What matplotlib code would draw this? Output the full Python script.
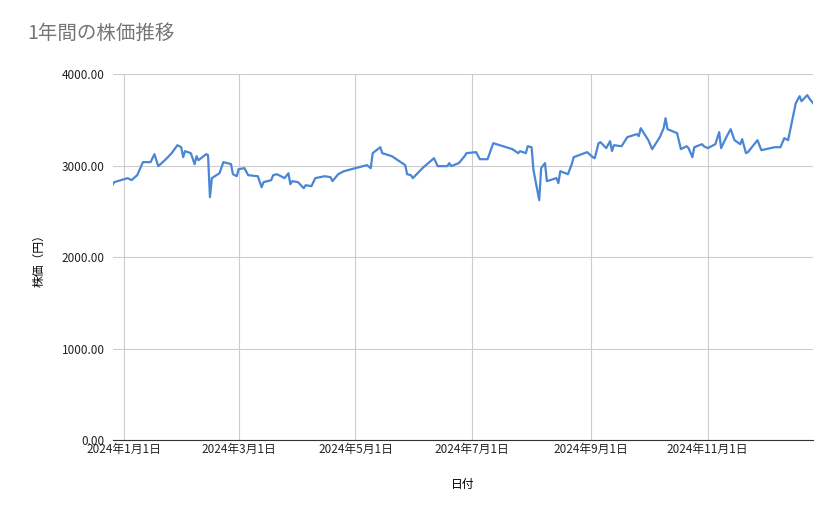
import matplotlib
matplotlib.use("Agg")
import matplotlib.pyplot as plt
import matplotlib.dates as mdates
import pandas as pd
from matplotlib.ticker import FuncFormatter

plt.rcParams['font.family'] = ['Noto Sans CJK JP', 'DejaVu Sans']

dates = ["2023-12-25","2023-12-27","2024-01-03","2024-01-05","2024-01-08","2024-01-11","2024-01-15","2024-01-17",
"2024-01-19","2024-01-23","2024-01-26","2024-01-29","2024-01-31","2024-02-01","2024-02-02","2024-02-05","2024-02-07",
"2024-02-08","2024-02-09","2024-02-13","2024-02-14","2024-02-15","2024-02-16","2024-02-20","2024-02-22","2024-02-26",
"2024-02-27","2024-02-29","2024-03-01","2024-03-04","2024-03-06","2024-03-11","2024-03-13","2024-03-14","2024-03-18",
"2024-03-19","2024-03-21","2024-03-25","2024-03-27","2024-03-28","2024-03-29","2024-04-01","2024-04-04","2024-04-05",
"2024-04-08","2024-04-10","2024-04-15","2024-04-18","2024-04-19","2024-04-22","2024-04-25","2024-05-01","2024-05-07",
"2024-05-09","2024-05-10","2024-05-14","2024-05-15","2024-05-20","2024-05-27","2024-05-28","2024-05-30","2024-05-31",
"2024-06-05","2024-06-11","2024-06-13","2024-06-18","2024-06-19","2024-06-20","2024-06-24","2024-06-27","2024-06-28",
"2024-07-03","2024-07-05","2024-07-09","2024-07-12","2024-07-17","2024-07-22","2024-07-25","2024-07-26","2024-07-29",
"2024-07-30","2024-08-01","2024-08-02","2024-08-05","2024-08-06","2024-08-08","2024-08-09","2024-08-14","2024-08-15",
"2024-08-16","2024-08-20","2024-08-22","2024-08-23","2024-08-30","2024-09-02","2024-09-03","2024-09-05","2024-09-06",
"2024-09-09","2024-09-11","2024-09-12","2024-09-13","2024-09-17","2024-09-20","2024-09-25","2024-09-26","2024-09-27",
"2024-10-01","2024-10-03","2024-10-07","2024-10-09","2024-10-10","2024-10-11","2024-10-16","2024-10-18","2024-10-21",
"2024-10-22","2024-10-24","2024-10-25","2024-10-29","2024-10-30","2024-11-01","2024-11-05","2024-11-07","2024-11-08",
"2024-11-11","2024-11-13","2024-11-15","2024-11-18","2024-11-19","2024-11-21","2024-11-22","2024-11-27","2024-11-29",
"2024-12-06","2024-12-09","2024-12-11","2024-12-13","2024-12-16","2024-12-17","2024-12-19","2024-12-20","2024-12-23",
"2024-12-24","2024-12-26"]

prices = [2754,2820,2864,2842,2896,3039,3039,3126,
2995,3071,3137,3224,3202,3093,3159,3137,3017,
3104,3060,3126,3115,2656,2864,2918,3039,3017,
2907,2885,2962,2973,2896,2885,2765,2820,2842,
2896,2907,2864,2918,2798,2831,2820,2754,2787,
2776,2864,2885,2874,2831,2907,2940,2973,3006,
2973,3137,3202,3137,3104,3006,2907,2896,2864,
2973,3082,2995,2995,3028,2995,3028,3104,3137,
3148,3071,3071,3246,3213,3181,3137,3159,3137,
3213,3202,2951,2623,2973,3028,2831,2864,2809,
2940,2907,3017,3093,3148,3093,3082,3246,3257,
3192,3268,3159,3224,3213,3312,3345,3323,3410,
3279,3181,3312,3410,3519,3399,3356,3181,3213,
3192,3093,3202,3235,3213,3192,3235,3367,3192,
3323,3399,3279,3235,3290,3137,3148,3279,3170,
3202,3202,3301,3279,3585,3683,3760,3705,3771,
3738,3683]

x_ticks = ["2024-01-01","2024-03-01","2024-05-01","2024-07-01","2024-09-01","2024-11-01"]
x_tick_labels = ["2024年1月1日","2024年3月1日","2024年5月1日","2024年7月1日","2024年9月1日","2024年11月1日"]
y_ticks = [0, 1000, 2000, 3000, 4000]

d = pd.to_datetime(dates)
fig = plt.figure(figsize=(8.39, 5.19), dpi=100)
ax = fig.add_axes([0.135, 0.152, 0.834, 0.705])
ax.plot(d, prices, color='#4a86d4', lw=1.6)
ax.set_xlim(pd.Timestamp("2023-12-26 12:00"), pd.Timestamp("2024-12-26"))
ax.set_ylim(0, 4000)
ax.set_yticks(y_ticks)
ax.yaxis.set_major_formatter(FuncFormatter(lambda v, p: f"{v:.2f}"))
ax.set_xticks(pd.to_datetime(x_ticks))
ax.set_xticklabels(x_tick_labels)
ax.grid(True, color='#cccccc', lw=0.8)
ax.set_axisbelow(True)
for s in ['top', 'right', 'left']:
    ax.spines[s].set_visible(False)
ax.spines['bottom'].set_color('#333333')
ax.tick_params(length=0, labelsize=8.5, colors='#222222')
ax.tick_params(axis='x', pad=2)
ax.tick_params(axis='y', pad=6)
ax.set_ylabel("株価（円）", fontsize=8.5, labelpad=12)
ax.set_xlabel("日付", fontsize=8.5, labelpad=16)
fig.text(0.033, 0.925, "1年間の株価推移", fontsize=14, color='#757575')
fig.savefig("out.png", dpi=100)
